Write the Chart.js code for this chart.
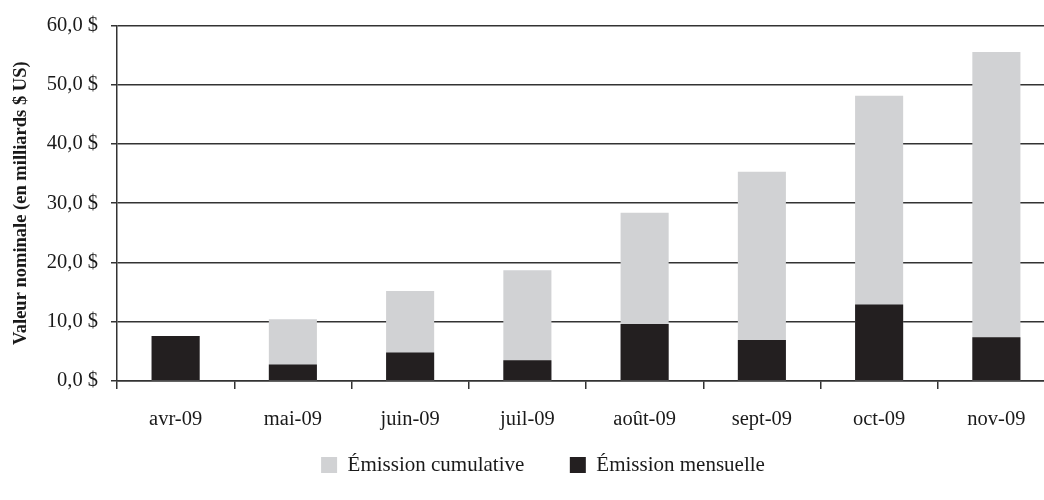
<!DOCTYPE html>
<html lang="fr">
<head>
<meta charset="utf-8">
<title>Émission cumulative et mensuelle</title>
<script src="https://cdn.jsdelivr.net/npm/chart.js@4.4.1/dist/chart.umd.min.js"></script>
<style>
  html, body { margin: 0; padding: 0; background: #ffffff; overflow: hidden; }
  #wrap { position: relative; width: 1060px; height: 500px; }
</style>
</head>
<body>
<div id="wrap"><canvas id="chart"></canvas></div>
<script>
// Mois d'émission
const categories = ['avr-09', 'mai-09', 'juin-09', 'juil-09', 'août-09', 'sept-09', 'oct-09', 'nov-09'];

// Valeur nominale, en milliards $ US
const cumulative = [7.6, 10.4, 15.2, 18.7, 28.4, 35.3, 48.1, 55.5];
const monthly    = [7.6, 2.8, 4.8, 3.5, 9.6, 6.9, 12.9, 7.4];

// Graduations de l'axe vertical
const yTickValues = [0, 10, 20, 30, 40, 50, 60];
const yTickLabels = ['0,0 $', '10,0 $', '20,0 $', '30,0 $', '40,0 $', '50,0 $', '60,0 $'];

const seriesNames = ['Émission cumulative', 'Émission mensuelle'];

const FONT = "'Liberation Serif', 'Times New Roman', serif";
const TEXT = '#1a1a1a';
const LINE = '#333333';

// Recentre la légende sous le graphique
const legendPlacement = {
  id: 'legendPlacement',
  afterLayout(chart) {
    const lg = chart.legend;
    if (!lg) return;
    const dx = 543 - (lg.left + lg.right) / 2;
    lg.left += dx; lg.right += dx;
    lg.top = 409;
    lg.bottom = chart.height;
    lg.height = lg.bottom - lg.top;
  }
};

new Chart(document.getElementById('chart'), {
  type: 'bar',
  data: {
    labels: categories,
    datasets: [
      {
        label: seriesNames[0],
        data: cumulative,
        backgroundColor: '#d1d2d4',
        borderWidth: 0,
        grouped: false,
        order: 1,
        barPercentage: 0.41,
        categoryPercentage: 1
      },
      {
        label: seriesNames[1],
        data: monthly,
        backgroundColor: '#231f20',
        borderWidth: 0,
        grouped: false,
        order: 0,
        barPercentage: 0.41,
        categoryPercentage: 1
      }
    ]
  },
  options: {
    responsive: true,
    maintainAspectRatio: false,
    animation: false,
    layout: { padding: { top: 22, right: 5, bottom: 0, left: 0 } },
    plugins: {
      tooltip: { enabled: false },
      legend: {
        position: 'bottom',
        maxHeight: 60,
        labels: {
          boxWidth: 16,
          boxHeight: 16,
          padding: 45.5,
          color: TEXT,
          font: { family: FONT, size: 21 },
          sort: (a, b) => a.datasetIndex - b.datasetIndex
        }
      }
    },
    scales: {
      x: {
        offset: true,
        grid: {
          offset: true,
          drawOnChartArea: false,
          drawTicks: true,
          tickLength: 8,
          color: LINE,
          lineWidth: 1.5
        },
        border: { display: true, color: LINE, width: 1.5 },
        ticks: {
          color: TEXT,
          font: { family: FONT, size: 20.5 },
          padding: 18,
          maxRotation: 0,
          autoSkip: false
        },
        afterFit(scale) { scale.height = 59; }
      },
      y: {
        min: 0,
        max: 60,
        afterBuildTicks(scale) {
          scale.ticks = yTickValues.map(v => ({ value: v }));
        },
        grid: {
          color: LINE,
          lineWidth: 1.5,
          tickLength: 6,
          drawTicks: true
        },
        border: { display: true, color: LINE, width: 1.5 },
        ticks: {
          color: TEXT,
          font: { family: FONT, size: 20.5 },
          padding: 13,
          callback: (value) => yTickLabels[yTickValues.indexOf(value)]
        },
        title: {
          display: true,
          text: 'Valeur nominale (en milliards $ US)',
          color: TEXT,
          font: { family: FONT, size: 18.5, weight: 'bold' },
          padding: { top: 10, bottom: 0 }
        },
        afterFit(scale) { scale.width = 117; }
      }
    }
  },
  plugins: [legendPlacement]
});
</script>
</body>
</html>
